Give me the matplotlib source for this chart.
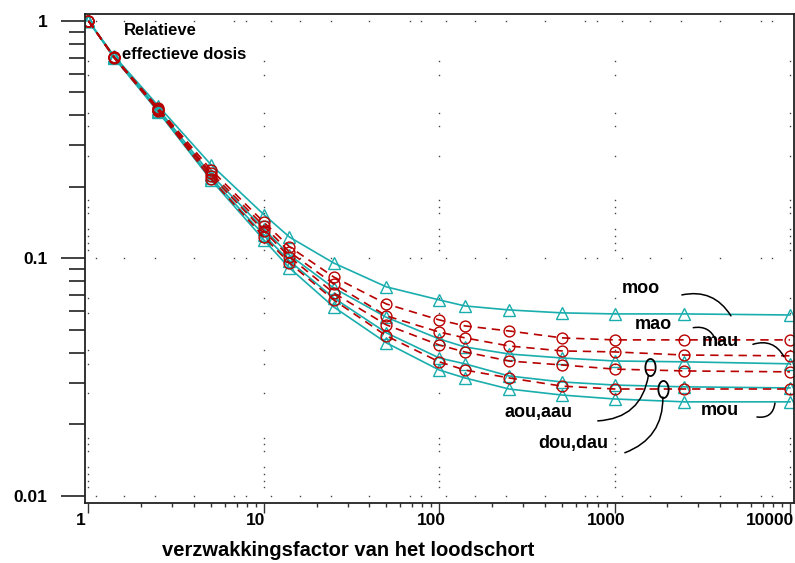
import numpy as np
import matplotlib.pyplot as plt
import matplotlib.transforms as mtransforms
from matplotlib.path import Path

plt.rcParams['font.family'] = ['Liberation Sans', 'DejaVu Sans']
plt.rcParams['font.weight'] = 'bold'

# verzwakkingsfactor (x) en relatieve effectieve dosis per combinatie
x = [1, 1.4, 2.5, 5, 10, 14, 25, 50, 100, 140, 250, 500, 1000, 2500, 10000]
moo = [1.0, 0.712, 0.439, 0.248, 0.153, 0.123, 0.0957, 0.0759, 0.0669, 0.0631, 0.0607, 0.0590, 0.0584, 0.0584, 0.0578]
mao = [1.0, 0.705, 0.430, 0.236, 0.142, 0.112, 0.0836, 0.0643, 0.0551, 0.0520, 0.0495, 0.0463, 0.0454, 0.0454, 0.0454]
mau = [1.0, 0.705, 0.426, 0.229, 0.137, 0.1065, 0.0781, 0.0573, 0.0490, 0.0463, 0.0428, 0.0408, 0.0404, 0.0392, 0.0389]
aou = [1.0, 0.705, 0.426, 0.225, 0.133, 0.1034, 0.0751, 0.0565, 0.0458, 0.0424, 0.0396, 0.0381, 0.0370, 0.0367, 0.0360]
aau = [1.0, 0.705, 0.422, 0.223, 0.1305, 0.1015, 0.0716, 0.0525, 0.0432, 0.0404, 0.0370, 0.0356, 0.0342, 0.0336, 0.0333]
dou = [1.0, 0.705, 0.418, 0.218, 0.1256, 0.0976, 0.0682, 0.0486, 0.0381, 0.0360, 0.0320, 0.0302, 0.0293, 0.0288, 0.0285]
dau = [1.0, 0.699, 0.418, 0.216, 0.1232, 0.0957, 0.0669, 0.0472, 0.0367, 0.0339, 0.0314, 0.0290, 0.0282, 0.0282, 0.0282]
mou = [1.0, 0.699, 0.414, 0.214, 0.1197, 0.0912, 0.0625, 0.0441, 0.0339, 0.0314, 0.0282, 0.0266, 0.0256, 0.0249, 0.0249]

teal_series = [moo, aou, dou, mou]
red_series = [mao, mau, aau, dau]

xticks = [1, 10, 100, 1000, 10000]
xticklabels = ['1', '10', '100', '1000', '10000']
yticks = [0.01, 0.1, 1]
yticklabels = ['0.01', '0.1', '1']

TEAL = '#1aadad'
RED = '#b80000'

fig = plt.figure(figsize=(7.95, 5.63), dpi=100)
ax = fig.add_axes([0.1069, 0.1066, 0.8918, 0.8686])
ax.set_xscale('log')
ax.set_yscale('log')
ax.set_xlim(0.955, 10540)
ax.set_ylim(0.00934, 1.07)

# dotted grid: sparse dots along the decade lines
dot_frac_x = [1.1, 1.6, 2.4, 4.0, 6.8, 7.9]
dot_frac_y = [1.09, 1.16, 1.24, 1.33, 1.55, 1.65, 1.76, 2.7, 3.6, 4.1, 5.9, 6.8]
for k in range(0, 5):
    xv = 10.0 ** k
    ys = [m * 10.0 ** e for e in (-2, -1) for m in dot_frac_y]
    ax.plot([xv] * len(ys), ys, ls='none', marker='s', ms=1.0, color='#444444', mew=0)
for e in (-2, -1, 0):
    yv = 10.0 ** e
    xs = [m * 10.0 ** k for k in range(0, 4) for m in dot_frac_x]
    ax.plot(xs, [yv] * len(xs), ls='none', marker='s', ms=1.0, color='#444444', mew=0)

for s in teal_series:
    ax.plot(x, s, color=TEAL, lw=1.2, marker='^', ms=8.5, mfc='none', mec=TEAL, mew=1.0)
for s in red_series:
    ax.plot(x, s, color=RED, lw=1.2, ls=(0, (5, 3.5)), marker='o', ms=7.8, mfc='none', mec=RED, mew=1.0)

# ticks
ax.set_xticks(xticks)
ax.set_xticklabels(xticklabels)
ax.set_yticks(yticks)
ax.set_yticklabels(yticklabels)
ax.tick_params(axis='y', which='major', length=17, width=1.3, color='#333333', pad=10, labelsize=12.5)
ax.tick_params(axis='y', which='minor', length=11.5, width=1.3, color='#333333')
ax.tick_params(axis='x', which='major', length=7, width=1.0, color='#333333', pad=0, labelsize=12.5)
ax.tick_params(axis='x', which='minor', length=3, width=1.0, color='#333333')
ax.tick_params(which='both', direction='out')

shift = mtransforms.ScaledTranslation(-8 / 100, 0, fig.dpi_scale_trans)
for lab in ax.get_xticklabels():
    lab.set_transform(lab.get_transform() + shift)
last = ax.get_xticklabels()[-1]
last.set_transform(last.get_transform() + mtransforms.ScaledTranslation(-12 / 100, 0, fig.dpi_scale_trans))

for sp in ax.spines.values():
    sp.set_linewidth(1.3)
    sp.set_color('#222222')

fig.text(348.5 / 795, 1 - 550 / 563, 'verzwakkingsfactor van het loodschort',
         ha='center', va='center', fontsize=14.5, fontweight='bold')

ax.text(1.6, 0.908, 'Relatieve', fontsize=12, fontweight='bold', va='center', ha='left')
ax.text(1.56, 0.719, 'effectieve dosis', fontsize=12, fontweight='bold', va='center', ha='left')

# curve labels
lab_kw = dict(fontsize=13, fontweight='bold', ha='center', va='center')
ax.text(1412, 0.0744, 'moo', **lab_kw)
ax.text(1653, 0.0525, 'mao', **lab_kw)
ax.text(3987, 0.0445, 'mau', **lab_kw)
ax.text(3987, 0.0228, 'mou', **lab_kw)
ax.text(370, 0.02236, 'aou,aau', **lab_kw)
ax.text(578, 0.0167, 'dou,dau', **lab_kw)

# leader lines
def leader(start, end, rad):
    ax.annotate('', xy=end, xytext=start,
                arrowprops=dict(arrowstyle='-', color='black', lw=1.1,
                                connectionstyle='arc3,rad=%s' % rad,
                                shrinkA=0, shrinkB=0))

leader((2419, 0.0702), (4607, 0.0573), -0.35)
leader((2810, 0.0511), (3780, 0.0452), -0.4)
leader((6150, 0.0435), (9240, 0.0386), -0.4)
leader((6480, 0.0215), (8210, 0.0246), 0.5)
leader((802, 0.0207), (1560, 0.0322), 0.4)
leader((1144, 0.0152), (1885, 0.0261), 0.35)

theta = np.linspace(0, 2 * np.pi, 80)
ell = Path(np.column_stack([0.6 * np.cos(theta), np.sin(theta)]), closed=True)
ax.plot([1589, 1885], [0.0349, 0.0282], ls='none', marker=ell, ms=12.3,
        mfc='none', mec='black', mew=1.3)

fig.savefig('out.png', dpi=100)
